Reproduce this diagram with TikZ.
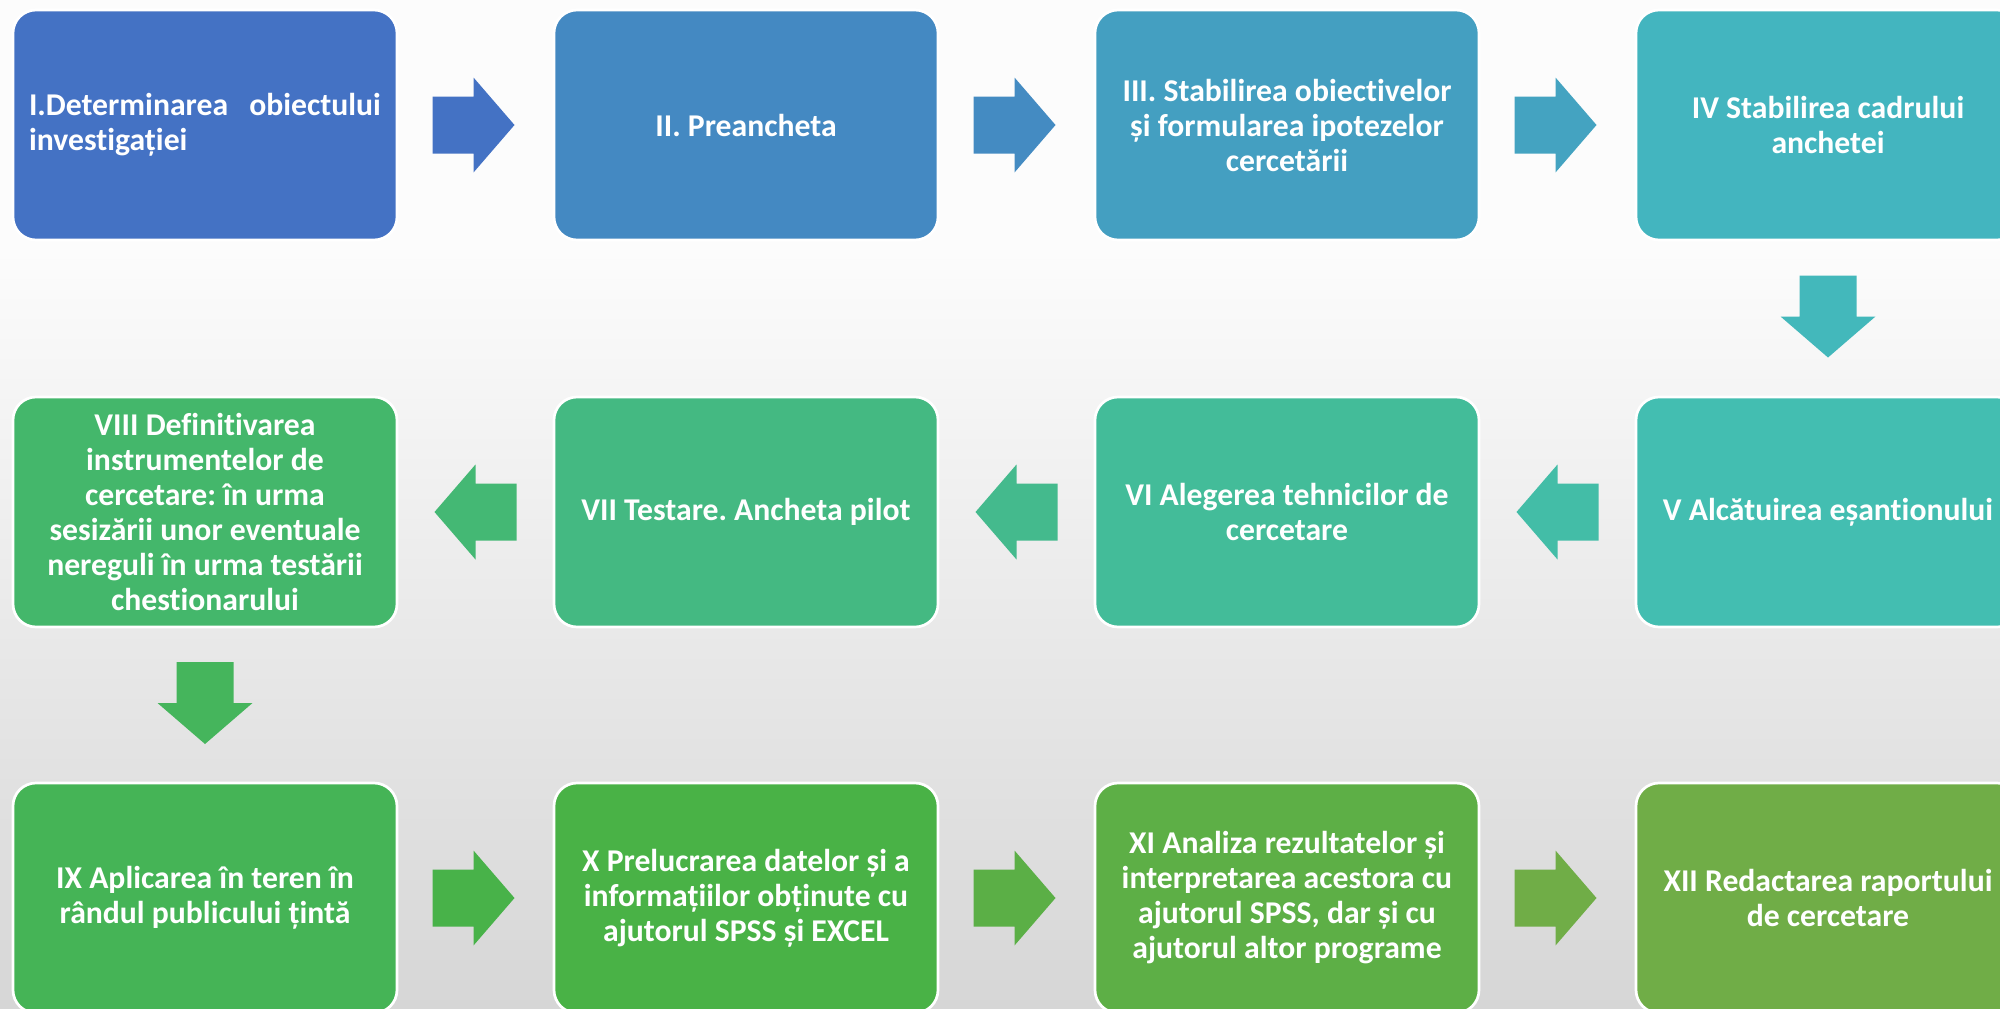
\documentclass[tikz,border=0pt]{standalone}
\usepackage{fontspec}
\setmainfont{Carlito}[Ligatures={NoCommon}]
\usetikzlibrary{calc}
\frenchspacing
\definecolor{c1}{HTML}{4472C4}
\definecolor{c2}{HTML}{4489C2}
\definecolor{c3}{HTML}{449FC1}
\definecolor{c4}{HTML}{43B5BF}
\definecolor{c5}{HTML}{43BEB1}
\definecolor{c6}{HTML}{43BC99}
\definecolor{c7}{HTML}{44B982}
\definecolor{c8}{HTML}{44B76B}
\definecolor{c9}{HTML}{45B456}
\definecolor{c10}{HTML}{49B246}
\definecolor{c11}{HTML}{5DAF46}
\definecolor{c12}{HTML}{70AD47}
\definecolor{bgtop}{HTML}{FCFCFC}
\definecolor{bgbot}{HTML}{D6D6D6}
\tikzset{
  box/.style={rectangle, rounded corners=23pt, minimum width=384pt, minimum height=230pt,
    draw=white, line width=2.7pt, text=white, align=center, inner sep=0pt,
    font=\fontsize{31.7}{35}\selectfont\bfseries},
  blockarrow/.pic={\fill[pic actions] (-41,-28.5) -- (0,-28.5) -- (0,-47.5) -- (41,0)
    -- (0,47.5) -- (0,28.5) -- (-41,28.5) -- cycle;},
}
\begin{document}
\begin{tikzpicture}[x=1pt,y=-1pt]
\useasboundingbox (0,0) rectangle (2000,1009);
\clip (0,0) rectangle (2000,1009);
\fill[bgtop] (0,0) rectangle (2000,250);
\shade[top color=bgtop, bottom color=bgbot] (0,249) rectangle (2000,1009);

% row 1
\node[box, fill=c1, text width=352pt, align=left] (b1) at (205,125)
  {I.Determinarea\hfill obiectului\\investigației};
\node[box, fill=c2] (b2) at (746,125) {II. Preancheta};
\node[box, fill=c3] (b3) at (1287,125) {III. Stabilirea obiectivelor\\și formularea ipotezelor\\cercetării};
\node[box, fill=c4] (b4) at (1828,125) {IV Stabilirea cadrului\\anchetei};
% row 2
\node[box, fill=c5] (b5) at (1828,512) {V Alcătuirea eșantionului};
\node[box, fill=c6] (b6) at (1287,512) {VI Alegerea tehnicilor de\\cercetare};
\node[box, fill=c7] (b7) at (746,512) {VII Testare. Ancheta pilot};
\node[box, fill=c8] (b8) at (205,512) {VIII Definitivarea\\instrumentelor de\\cercetare: în urma\\sesizării unor eventuale\\nereguli în urma testării\\chestionarului};
% row 3
\node[box, fill=c9] (b9) at (205,898) {IX Aplicarea în teren în\\rândul publicului țintă};
\node[box, fill=c10] (b10) at (746,898) {X Prelucrarea datelor și a\\informațiilor obținute cu\\ajutorul SPSS și EXCEL};
\node[box, fill=c11] (b11) at (1287,898) {XI Analiza rezultatelor și\\interpretarea acestora cu\\ajutorul SPSS, dar și cu\\ajutorul altor programe};
\node[box, fill=c12] (b12) at (1828,898) {XII Redactarea raportului\\de cercetare};

% block arrows
\pic[fill=c1] at ($(b1.east)!0.5!(b2.west)+(-2,0)$) {blockarrow};
\pic[fill=c2!90!c3] at ($(b2.east)!0.5!(b3.west)+(-2,0)$) {blockarrow};
\pic[fill=c3!80!c4] at ($(b3.east)!0.5!(b4.west)+(-2,0)$) {blockarrow};
\pic[fill=c4!70!c5, rotate=-90] at ($(b4.south)!0.5!(b5.north)+(0,-2)$) {blockarrow};
\pic[fill=c5!60!c6, rotate=180] at ($(b5.west)!0.5!(b6.east)$) {blockarrow};
\pic[fill=c6!50!c7, rotate=180] at ($(b6.west)!0.5!(b7.east)$) {blockarrow};
\pic[fill=c7!40!c8, rotate=180] at ($(b7.west)!0.5!(b8.east)$) {blockarrow};
\pic[fill=c8!30!c9, rotate=-90] at ($(b8.south)!0.5!(b9.north)+(0,-2)$) {blockarrow};
\pic[fill=c9!20!c10] at ($(b9.east)!0.5!(b10.west)+(-2,0)$) {blockarrow};
\pic[fill=c10!10!c11] at ($(b10.east)!0.5!(b11.west)+(-2,0)$) {blockarrow};
\pic[fill=c12] at ($(b11.east)!0.5!(b12.west)+(-2,0)$) {blockarrow};
\end{tikzpicture}
\end{document}
